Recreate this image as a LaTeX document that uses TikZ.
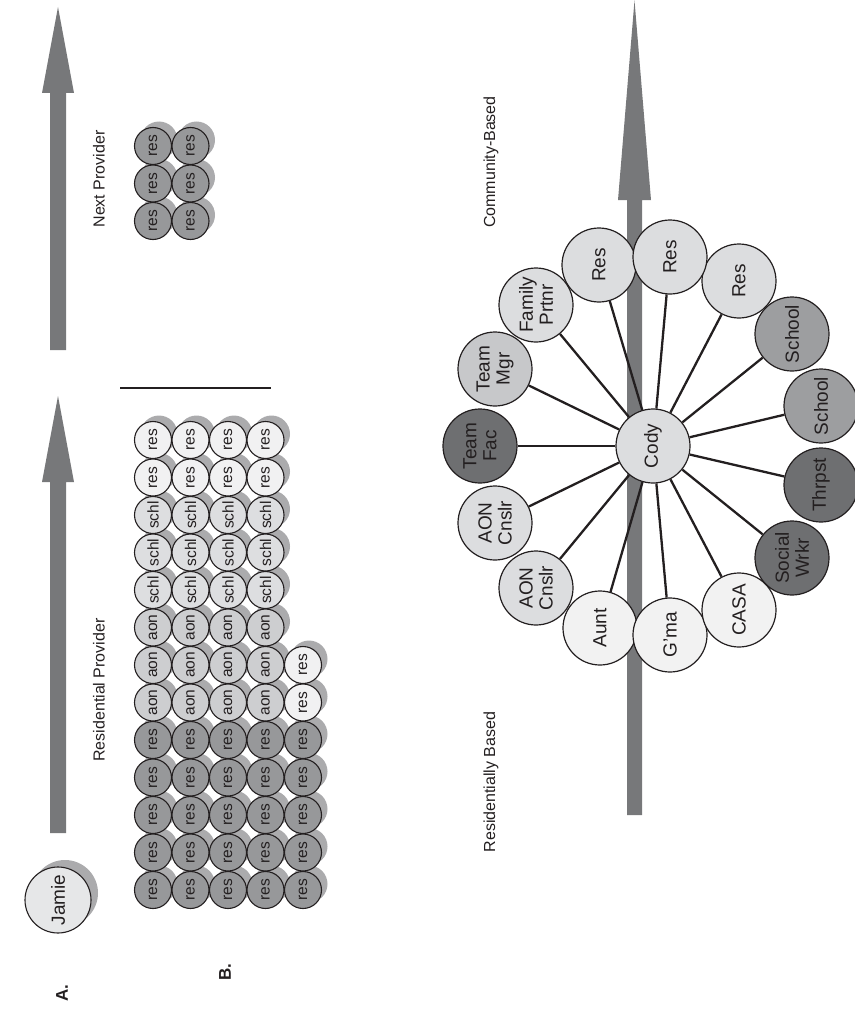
\documentclass[tikz,border=0pt]{standalone}
\usepackage{fontspec}
\setmainfont{Liberation Sans}
\definecolor{ink}{HTML}{231F20}
\definecolor{arrowgray}{HTML}{77787A}
\definecolor{shadowgray}{HTML}{ABABAD}
\definecolor{resdark}{HTML}{97989A}
\definecolor{aongray}{HTML}{CDCED0}
\definecolor{schlgray}{HTML}{DDDEE0}
\definecolor{reslight}{HTML}{F1F1F2}
\definecolor{jamiefill}{HTML}{E6E7E8}
\definecolor{bdark}{HTML}{6E6F71}
\definecolor{bmed}{HTML}{9D9EA0}
\definecolor{blight}{HTML}{DCDDDF}
\definecolor{bmgr}{HTML}{C7C8CA}
\definecolor{bwhite}{HTML}{F2F2F2}
\tikzset{
  gridc/.style={circle, draw=ink, line width=1.1pt, minimum size=37pt, inner sep=0pt,
    rotate=90, font=\fontsize{15.5}{15.5}\selectfont, text=ink},
  shad/.style={fill=shadowgray},
  bigc/.style={circle, draw=ink, line width=1.2pt, minimum size=74pt, inner sep=0pt,
    rotate=90, font=\fontsize{19}{20}\selectfont, align=center, text=ink},
  spoke/.style={draw=ink, line width=2.3pt},
  lbl/.style={rotate=90, font=\fontsize{16}{16}\selectfont, text=ink, inner sep=0pt},
  part/.style={rotate=90, font=\bfseries\fontsize{17}{17}\selectfont, text=ink, inner sep=0pt},
  bigarrow/.style={fill=arrowgray}
}
\begin{document}
\begin{tikzpicture}[x=1pt,y=-1pt]
\useasboundingbox (0,0) rectangle (854,1014);

% ---------------- Part A ----------------
\node[part] (A) at (62,993) {A.};
\fill[bigarrow] (50,350) -- (50,93) -- (42,93) -- (58,7) -- (74,93) -- (66,93) -- (66,350) -- cycle;
\fill[bigarrow] (50,833) -- (50,482) -- (42,482) -- (58,396) -- (74,482) -- (66,482) -- (66,833) -- cycle;
\node[lbl] (np) at (99,179) {Next Provider};
\node[lbl] (rp) at (99,690) {Residential Provider};
\coordinate (sepL) at (120,388);
\coordinate (sepR) at (271,388);
\draw[ink, line width=2pt] (sepL) -- (sepR);

% Jamie
\fill[shad] (65,893) circle (33pt);
\node[gridc, minimum size=66pt, fill=jamiefill, font=\fontsize{19}{19}\selectfont] (jamie) at (58,900) {Jamie};

% next provider grid shadows
\foreach \i in {0,1,2} \foreach \j in {0,1}
  \fill[shad] ({159+37.5*\j},{140+37.5*\i}) circle (18.5pt);
% main grid shadows
\foreach \i in {0,...,12} \foreach \j in {0,...,3}
  \fill[shad] ({159+37.5*\j},{434+37.5*\i}) circle (18.5pt);
\foreach \i in {6,...,12}
  \fill[shad] ({159+37.5*4},{434+37.5*\i}) circle (18.5pt);

% next provider grid
\foreach \i in {0,1,2} \foreach \j in {0,1}
  \node[gridc, fill=resdark] (n-\i-\j) at ({153+37.5*\j},{146+37.5*\i}) {res};

% main grid
\foreach \i/\lab/\col in {0/res/reslight,1/res/reslight,2/schl/schlgray,3/schl/schlgray,4/schl/schlgray,
   5/aon/aongray,6/aon/aongray,7/aon/aongray,8/res/resdark,9/res/resdark,10/res/resdark,11/res/resdark,12/res/resdark}
  \foreach \j in {0,...,3}
    \node[gridc, fill=\col] (g-\i-\j) at ({153+37.5*\j},{440+37.5*\i}) {\lab};
\foreach \i/\col in {6/reslight,7/reslight,8/resdark,9/resdark,10/resdark,11/resdark,12/resdark}
  \node[gridc, fill=\col] (g-\i-4) at ({153+37.5*4},{440+37.5*\i}) {res};

% ---------------- Part B ----------------
\node[part] (B) at (225,972) {B.};
\fill[bigarrow] (627,815) -- (627,200) -- (618,200) -- (634.5,0.5) -- (651,200) -- (642,200) -- (642,815) -- cycle;
\node[lbl] (cb) at (491,162) {Community-Based};
\node[lbl] (rb) at (491,782) {Residentially Based};

\node[bigc, fill=blight] (cody) at (653,446) {Cody};
\foreach \n/\x/\y/\col/\t in {
   resA/599/265/blight/Res,
   fam/536/305/blight/{Family\\Prtnr},
   mgr/495/369/bmgr/{Team\\Mgr},
   fac/480/446/bdark/{Team\\Fac},
   aonA/495/523/blight/{AON\\Cnslr},
   aonB/536/588/blight/{AON\\Cnslr},
   aunt/600/628/bwhite/Aunt,
   gma/670/635/bwhite/{G’ma},
   casa/739/610/bwhite/CASA,
   soc/792/558/bdark/{Social\\Wrkr},
   thr/821/485/bdark/Thrpst,
   schB/821/406/bmed/School,
   schA/792/334/bmed/School,
   resC/739/281/blight/Res,
   resB/670/257/blight/Res}
{
  \node[bigc, fill=\col] (\n) at (\x,\y) {\t};
  \draw[spoke] (cody) -- (\n);
}
\end{tikzpicture}
\end{document}
